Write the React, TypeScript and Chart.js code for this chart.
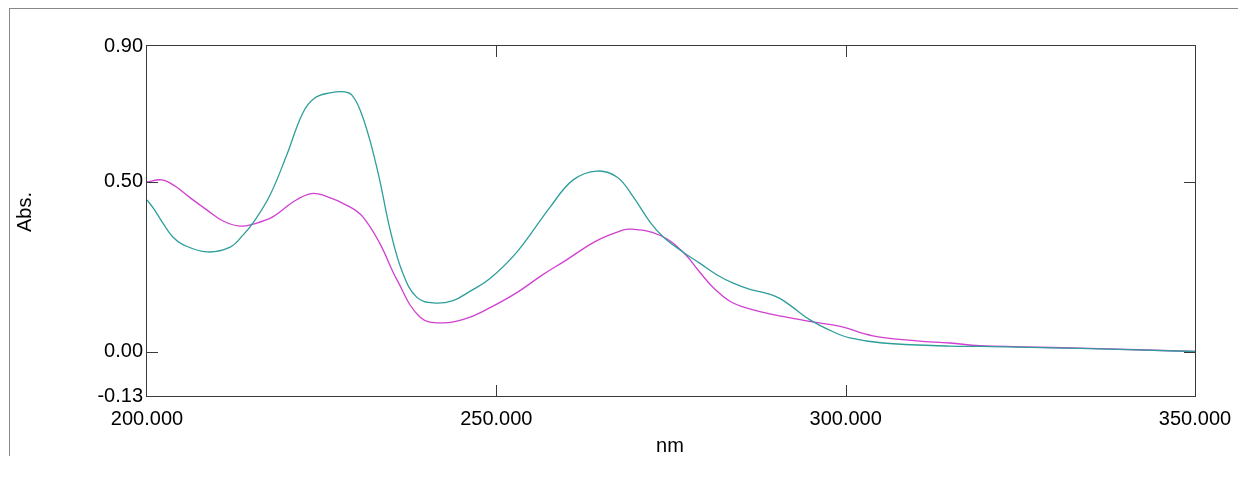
import React, { useEffect, useRef } from "react";
import { Chart, registerables } from "chart.js";

Chart.register(...registerables);

// Teal spectrum (nm, Abs.)
const tealNm = [200, 201.0, 202.3, 203.7, 205.2, 208.6, 211.9, 213.8, 215.2, 217.6, 220.0, 222.3, 224.0, 226.2, 228.3, 229.3, 230.5, 231.9, 233.3, 234.8, 236.6, 238.6, 241.0, 243.8, 246.2, 249.0, 253.0, 257.7, 261.0, 264.4, 267.3, 269.6, 272.0, 273.9, 276.7, 279.1, 281.6, 283.9, 286.3, 288.7, 290.5, 292.3, 294.9, 298.2, 300.6, 305.3, 314.9, 319.2, 333.5, 350];
const tealAbs = [0.447, 0.420, 0.378, 0.338, 0.315, 0.294, 0.308, 0.345, 0.380, 0.461, 0.579, 0.703, 0.747, 0.762, 0.765, 0.756, 0.712, 0.623, 0.506, 0.359, 0.232, 0.161, 0.144, 0.151, 0.178, 0.214, 0.295, 0.426, 0.506, 0.532, 0.514, 0.456, 0.382, 0.338, 0.294, 0.261, 0.226, 0.202, 0.184, 0.172, 0.158, 0.133, 0.094, 0.059, 0.041, 0.026, 0.017, 0.016, 0.010, 0.001];

// Magenta spectrum (nm, Abs.)
const magentaNm = [200, 202.1, 204.0, 206.2, 208.6, 210.9, 213.3, 215.2, 218.0, 220.9, 223.3, 225.2, 229.1, 230.9, 233.3, 235.8, 239.1, 242.4, 245.8, 249.1, 253.0, 256.5, 260.0, 264.0, 267.0, 269.1, 273.4, 276.7, 279.1, 281.0, 283.5, 286.0, 291.0, 295.3, 299.2, 303.9, 310.2, 314.9, 319.2, 333.5, 350];
const magentaAbs = [0.500, 0.506, 0.488, 0.453, 0.417, 0.385, 0.370, 0.376, 0.397, 0.441, 0.465, 0.461, 0.426, 0.397, 0.320, 0.211, 0.102, 0.085, 0.099, 0.130, 0.175, 0.225, 0.270, 0.323, 0.350, 0.361, 0.343, 0.294, 0.235, 0.190, 0.148, 0.128, 0.104, 0.088, 0.075, 0.047, 0.032, 0.026, 0.018, 0.011, 0.001];

const xTicks = [200, 250, 300, 350];
const yTicks = [-0.13, 0, 0.5, 0.9];
const innerXTicks = [250, 300];
const innerYTicks = [0, 0.5];

const xTitle = "nm";
const yTitle = "Abs.";

const FONT = "'Liberation Sans', Arial, sans-serif";

export default function App() {
  const ref = useRef<HTMLCanvasElement>(null);

  useEffect(() => {
    const framePlugin = {
      id: "framePlugin",
      afterDraw(chart: any) {
        const ctx = chart.ctx;
        const { left, right, top, bottom } = chart.chartArea;
        const xs = chart.scales.x;
        const ys = chart.scales.y;
        ctx.save();
        ctx.strokeStyle = "#3a3a3a";
        ctx.lineWidth = 1;
        ctx.strokeRect(Math.round(left) - 0.5, Math.round(top) - 0.5, Math.round(right - left) + 1, Math.round(bottom - top) + 1);
        ctx.beginPath();
        const L = 11;
        for (const v of innerYTicks) {
          const y = Math.round(ys.getPixelForValue(v)) + 0.5;
          ctx.moveTo(left, y);
          ctx.lineTo(left + L, y);
          ctx.moveTo(right, y);
          ctx.lineTo(right - L, y);
        }
        for (const v of innerXTicks) {
          const x = Math.round(xs.getPixelForValue(v)) + 0.5;
          ctx.moveTo(x, top);
          ctx.lineTo(x, top + L);
          ctx.moveTo(x, bottom);
          ctx.lineTo(x, bottom - L);
        }
        ctx.stroke();

        ctx.fillStyle = "#000";
        ctx.font = `20px ${FONT}`;
        ctx.textAlign = "center";
        ctx.textBaseline = "middle";
        ctx.fillText(xTitle, 662, 438);
        ctx.translate(17, 204);
        ctx.rotate(-Math.PI / 2);
        ctx.fillText(yTitle, 0, 0);
        ctx.restore();
      },
    };

    const chart = new Chart(ref.current as HTMLCanvasElement, {
      type: "line",
      data: {
        datasets: [
          {
            data: tealNm.map((x, i) => ({ x, y: tealAbs[i] })),
            borderColor: "#2e9e9a",
            borderWidth: 1.3,
            pointRadius: 0,
            tension: 0.4,
            fill: false,
          },
          {
            data: magentaNm.map((x, i) => ({ x, y: magentaAbs[i] })),
            borderColor: "#d040d0",
            borderWidth: 1.3,
            pointRadius: 0,
            tension: 0.4,
            fill: false,
          },
        ],
      },
      options: {
        animation: false,
        responsive: false,
        devicePixelRatio: 1,
        layout: { padding: { top: 38, right: 51, left: 0, bottom: 0 } },
        plugins: { legend: { display: false }, tooltip: { enabled: false }, title: { display: false } },
        scales: {
          x: {
            type: "linear",
            min: 200,
            max: 350,
            afterBuildTicks: (s: any) => {
              s.ticks = xTicks.map((v) => ({ value: v }));
            },
            afterFit: (s: any) => {
              s.height = 76;
            },
            grid: { display: false, drawTicks: false },
            border: { display: false },
            ticks: {
              font: { family: FONT, size: 20 },
              color: "#000",
              padding: 11,
              maxRotation: 0,
              autoSkip: false,
              callback: (v: any) => Number(v).toFixed(3),
            },
          },
          y: {
            type: "linear",
            min: -0.13,
            max: 0.9,
            afterBuildTicks: (s: any) => {
              s.ticks = yTicks.map((v) => ({ value: v }));
            },
            afterFit: (s: any) => {
              s.width = 139;
            },
            grid: { display: false, drawTicks: false },
            border: { display: false },
            ticks: {
              font: { family: FONT, size: 20 },
              color: "#000",
              padding: 4,
              autoSkip: false,
              callback: (v: any) => Number(v).toFixed(2),
            },
          },
        },
      },
      plugins: [framePlugin],
    });
    return () => chart.destroy();
  }, []);

  return (
    <div style={{ position: "relative", width: 1238, height: 464 }}>
      <div
        style={{
          position: "absolute",
          left: 1,
          top: 0,
          width: 1237,
          height: 448,
          borderTop: "1px solid #888",
          borderLeft: "1px solid #888",
          boxSizing: "border-box",
        }}
      />
      <canvas ref={ref} width={1238} height={464} style={{ position: "absolute", left: 0, top: 0 }} />
    </div>
  );
}
